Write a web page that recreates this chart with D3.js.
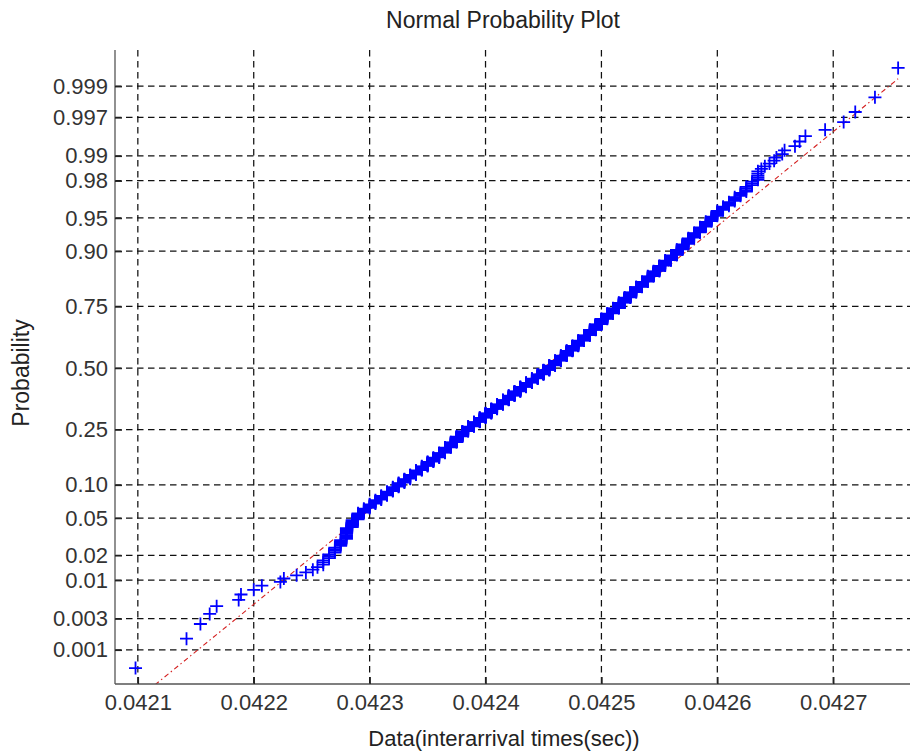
<!DOCTYPE html>
<html><head><meta charset="utf-8">
<script src="https://cdn.jsdelivr.net/npm/d3@7"></script>
<style>
html,body{margin:0;padding:0;background:#fff;}
svg{display:block;font-family:"Liberation Sans",Arial,Helvetica,sans-serif;}
</style></head><body>
<svg id="chart" width="910" height="756"></svg>
<script>
// Interarrival times in microseconds, sorted, and how many samples share each value
const sampleUs = [
  42098, 42142, 42154, 42162, 42168, 42187, 42189, 42200, 42207, 42223, 42226, 42237, 42245, 42251, 42255,
  42260, 42265, 42270, 42275, 42280, 42285, 42290, 42295, 42300, 42305,
  42310, 42315, 42320, 42325, 42330, 42335, 42340, 42345, 42350, 42355,
  42360, 42365, 42370, 42375, 42380, 42385, 42390, 42395, 42400, 42405,
  42410, 42415, 42420, 42425, 42430, 42435, 42440, 42445, 42450, 42455,
  42460, 42465, 42470, 42475, 42480, 42485, 42490, 42495, 42500, 42505,
  42510, 42515, 42520, 42525, 42530, 42535, 42540, 42545, 42550, 42555,
  42560, 42565, 42570, 42575, 42580, 42585, 42590, 42595, 42600, 42605,
  42610, 42615, 42620, 42625, 42630, 42635,
  42638, 42641, 42645, 42649, 42651, 42656, 42658, 42667, 42671, 42676, 42693, 42709, 42719, 42736, 42756
];
const sampleCount = [
  1, 1, 1, 1, 1, 1, 1, 1, 1, 1, 1, 1, 1, 1, 1,
  3, 3, 4, 5, 10, 8, 8, 6, 6, 6,
  7, 7, 8, 8, 8, 9, 10, 10, 11, 11,
  13, 16, 16, 18, 18, 17, 16, 16, 17, 17,
  18, 18, 18, 18, 19, 18, 18, 18, 19, 20,
  21, 22, 21, 21, 22, 22, 22, 22, 21, 20,
  19, 19, 17, 17, 16, 15, 15, 13, 13, 12,
  11, 11, 10, 10, 8, 8, 7, 6, 6, 4,
  4, 4, 3, 4, 3, 5,
  1, 1, 1, 1, 1, 1, 1, 1, 1, 1, 1, 1, 1, 1, 1
];

const xTickValues = [0.0421, 0.0422, 0.0423, 0.0424, 0.0425, 0.0426, 0.0427];
const xTickLabels = ["0.0421", "0.0422", "0.0423", "0.0424", "0.0425", "0.0426", "0.0427"];
const probTicks = [0.001, 0.003, 0.01, 0.02, 0.05, 0.10, 0.25, 0.50, 0.75, 0.90, 0.95, 0.98, 0.99, 0.997, 0.999];
const probTickLabels = ["0.001", "0.003", "0.01", "0.02", "0.05", "0.10", "0.25", "0.50", "0.75", "0.90", "0.95", "0.98", "0.99", "0.997", "0.999"];

const titleText = "Normal Probability Plot";
const xLabelText = "Data(interarrival times(sec))";
const yLabelText = "Probability";

(function () {
  // Inverse of the standard normal CDF (Acklam's rational approximation)
  function norminv(p) {
    const a = [-3.969683028665376e+01, 2.209460984245205e+02, -2.759285104469687e+02, 1.383577518672690e+02, -3.066479806614716e+01, 2.506628277459239e+00];
    const b = [-5.447609879822406e+01, 1.615858368580409e+02, -1.556989798598866e+02, 6.680131188771972e+01, -1.328068155288572e+01];
    const c = [-7.784894002430293e-03, -3.223964580411365e-01, -2.400758277161838e+00, -2.549732539343734e+00, 4.374664141464968e+00, 2.938163982698783e+00];
    const d = [7.784695709041462e-03, 3.224671290700398e-01, 2.445134137142996e+00, 3.754408661907416e+00];
    const pl = 0.02425, ph = 1 - pl;
    let q, r;
    if (p < pl) {
      q = Math.sqrt(-2 * Math.log(p));
      return (((((c[0]*q + c[1])*q + c[2])*q + c[3])*q + c[4])*q + c[5]) / ((((d[0]*q + d[1])*q + d[2])*q + d[3])*q + 1);
    }
    if (p > ph) {
      q = Math.sqrt(-2 * Math.log(1 - p));
      return -(((((c[0]*q + c[1])*q + c[2])*q + c[3])*q + c[4])*q + c[5]) / ((((d[0]*q + d[1])*q + d[2])*q + d[3])*q + 1);
    }
    q = p - 0.5; r = q * q;
    return (((((a[0]*r + a[1])*r + a[2])*r + a[3])*r + a[4])*r + a[5])*q / (((((b[0]*r + b[1])*r + b[2])*r + b[3])*r + b[4])*r + 1);
  }

  // Expand the table into the sorted sample (seconds) with normal plotting positions
  const data = [];
  sampleUs.forEach((v, i) => { for (let k = 0; k < sampleCount[i]; k++) data.push(v / 1e6); });
  data.sort(d3.ascending);
  const n = data.length;
  const points = data.map((v, i) => ({ x: v, z: norminv((i + 0.5) / n) }));

  const pLeft = 115, pRight = 930, pTop = 50, pBottom = 684;
  const x = d3.scaleLinear().domain([0.0420803, 0.0427835]).range([pLeft, pRight]);
  const y = d3.scaleLinear().domain([-3.465, 3.487]).range([pBottom, pTop]);

  const svg = d3.select("#chart");
  svg.append("rect").attr("width", 910).attr("height", 756).attr("fill", "#fff");

  svg.append("defs").append("clipPath").attr("id", "plotclip")
    .append("rect").attr("x", pLeft).attr("y", pTop - 10).attr("width", pRight - pLeft).attr("height", pBottom - pTop + 10);

  // Dotted grid
  const grid = svg.append("g").attr("stroke", "#111").attr("stroke-width", 1.25).attr("stroke-dasharray", "6.5,4.5");
  grid.selectAll("line.v").data(xTickValues).join("line").attr("class", "v")
    .attr("x1", d => x(d)).attr("x2", d => x(d)).attr("y1", pTop).attr("y2", pBottom);
  grid.selectAll("line.h").data(probTicks).join("line").attr("class", "h")
    .attr("x1", pLeft).attr("x2", pRight).attr("y1", d => y(norminv(d))).attr("y2", d => y(norminv(d)));

  // Reference line through the quartiles, extended over the data range
  const q1x = d3.quantile(data, 0.25), q3x = d3.quantile(data, 0.75);
  const zs = points.map(p => p.z);
  const q1z = d3.quantile(zs, 0.25), q3z = d3.quantile(zs, 0.75);
  const slope = (q3z - q1z) / (q3x - q1x);
  const cx = (q1x + q3x) / 2, cz = (q1z + q3z) / 2;
  const minx = data[0], maxx = data[n - 1];
  const plot = svg.append("g").attr("clip-path", "url(#plotclip)");
  plot.append("line")
    .attr("x1", x(minx)).attr("y1", y(cz + slope * (minx - cx)))
    .attr("x2", x(maxx)).attr("y2", y(cz + slope * (maxx - cx)))
    .attr("stroke", "#d42020").attr("stroke-width", 1.1).attr("stroke-dasharray", "5,3,1.5,3");
  plot.append("line")
    .attr("x1", x(q1x)).attr("y1", y(q1z)).attr("x2", x(q3x)).attr("y2", y(q3z))
    .attr("stroke", "#d42020").attr("stroke-width", 1.1);

  // Sample markers
  plot.selectAll("path.pt").data(points).join("path").attr("class", "pt")
    .attr("transform", d => `translate(${x(d.x)},${y(d.z)})`)
    .attr("d", "M-6.5,0H6.5M0,-6.5V6.5")
    .attr("fill", "none").attr("stroke", "#0000ff").attr("stroke-width", 1.8);

  // Axes with inward ticks
  const xAxis = d3.axisBottom(x).tickValues(xTickValues)
    .tickFormat((d, i) => xTickLabels[i]).tickSizeInner(-7).tickSizeOuter(0).tickPadding(10);
  const gx = svg.append("g").attr("transform", `translate(0,${pBottom})`).call(xAxis);
  const yAxis = d3.axisLeft(y).tickValues(probTicks.map(norminv))
    .tickFormat((d, i) => probTickLabels[i]).tickSizeInner(-7).tickSizeOuter(0).tickPadding(7);
  const gy = svg.append("g").attr("transform", `translate(${pLeft},0)`).call(yAxis);

  [gx, gy].forEach(g => {
    g.select(".domain").attr("stroke", "#555").attr("stroke-width", 1.3);
    g.selectAll(".tick line").attr("stroke", "#222").attr("stroke-width", 1.5);
    g.selectAll(".tick text").attr("fill", "#333").attr("font-size", 22)
      .attr("font-family", "'Liberation Sans', Arial, sans-serif");
  });
  gy.select(".domain").attr("d", `M0,${pTop}V${pBottom}`);
  gx.select(".domain").attr("d", `M${pLeft},0H${pRight}`);

  svg.append("text").attr("x", 503).attr("y", 28).attr("text-anchor", "middle")
    .attr("font-size", 23).attr("fill", "#222").text(titleText);
  svg.append("text").attr("x", 504).attr("y", 746).attr("text-anchor", "middle")
    .attr("font-size", 22).attr("fill", "#222").text(xLabelText);
  svg.append("text").attr("transform", "translate(29,373) rotate(-90)").attr("text-anchor", "middle")
    .attr("font-size", 23).attr("fill", "#222").text(yLabelText);
})();
</script>
</body></html>
